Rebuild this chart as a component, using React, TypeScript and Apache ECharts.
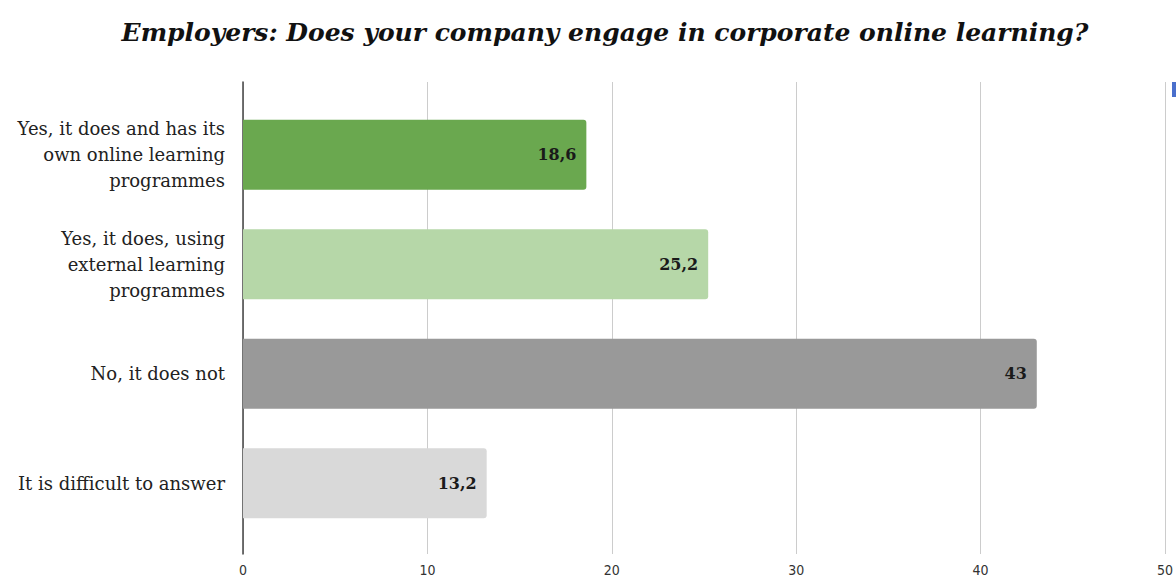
import React, { useEffect, useRef } from "react";
import * as echarts from "echarts";

const TITLE = "Employers: Does your company engage in corporate online learning?";
const categories = [
  "Yes, it does and has its\nown online learning\nprogrammes",
  "Yes, it does, using\nexternal learning\nprogrammes",
  "No, it does not",
  "It is difficult to answer",
];
const values = [18.6, 25.2, 43, 13.2];
const barColors = ["#6aa84f", "#b6d7a8", "#999999", "#d9d9d9"];
const xMin = 0;
const xMax = 50;
const xInterval = 10;

export default function App() {
  const ref = useRef<HTMLDivElement>(null);
  useEffect(() => {
    document.body.style.margin = "0";
    document.body.style.overflow = "hidden";
    const chart = echarts.init(ref.current!, null, { renderer: "svg" });
    chart.setOption({
      animation: false,
      backgroundColor: "#ffffff",
      title: {
        text: TITLE,
        left: 600,
        textAlign: "center",
        top: 15,
        textStyle: {
          fontFamily: "DejaVu Serif",
          fontStyle: "italic",
          fontWeight: "bold",
          fontSize: 25,
          color: "#111111",
        },
      },
      grid: [
        { left: 243, right: 10, top: 82, bottom: 22 },
        { left: 243, right: 10, top: 100, bottom: 39 },
      ],
      xAxis: [
        {
          gridIndex: 0,
          type: "value",
          min: xMin,
          max: xMax,
          interval: xInterval,
          axisLine: { show: false },
          axisTick: { show: false },
          splitLine: { show: true, lineStyle: { color: "#cccccc", width: 1 } },
          axisLabel: {
            margin: 9,
            fontFamily: "DejaVu Sans Condensed, Liberation Sans",
            fontSize: 14,
            color: "#333333",
          },
        },
        {
          gridIndex: 1,
          type: "value",
          min: xMin,
          max: xMax,
          interval: xInterval,
          show: false,
        },
      ],
      yAxis: [
        {
          gridIndex: 0,
          type: "category",
          data: categories,
          inverse: true,
          axisLine: { show: true, lineStyle: { color: "#444444", width: 1.5 } },
          axisTick: { show: false },
          axisLabel: { show: false },
        },
        {
          gridIndex: 1,
          type: "category",
          data: categories,
          inverse: true,
          axisLine: { show: false },
          axisTick: { show: false },
          axisLabel: {
            margin: 18,
            fontFamily: "DejaVu Serif",
            fontSize: 18,
            lineHeight: 26,
            color: "#222222",
            align: "right",
          },
        },
      ],
      series: [
        {
          type: "bar",
          xAxisIndex: 1,
          yAxisIndex: 1,
          data: values.map((v, i) => ({ value: v, itemStyle: { color: barColors[i] } })),
          barWidth: 70,
          itemStyle: { borderRadius: [0, 3, 3, 0] },
          label: {
            show: true,
            position: "insideRight",
            distance: 10,
            formatter: (p: any) => String(p.value).replace(".", ","),
            fontFamily: "DejaVu Serif",
            fontWeight: "bold",
            fontSize: 16,
            color: "#1a1a1a",
          },
        },
      ],
      graphic: [
        {
          type: "rect",
          shape: { x: 1172, y: 82, width: 6, height: 15 },
          style: { fill: "#4a6fcc" },
        },
      ],
    });
    return () => chart.dispose();
  }, []);
  return <div ref={ref} style={{ width: 1176, height: 577 }} />;
}
